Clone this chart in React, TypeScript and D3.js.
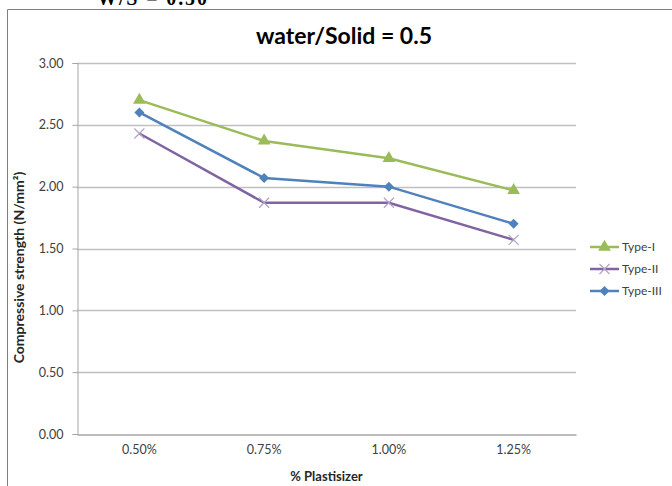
import React, { useEffect, useRef } from 'react';
import * as d3 from 'd3';

const categories = ['0.50%', '0.75%', '1.00%', '1.25%'];
const typeI = [2.7, 2.37, 2.23, 1.97];
const typeII = [2.43, 1.87, 1.87, 1.57];
const typeIII = [2.6, 2.07, 2.0, 1.7];
const yTicks = [0, 0.5, 1, 1.5, 2, 2.5, 3];

const seriesList = [
  { name: 'Type-I', values: typeI, color: '#9bbb59', marker: 'triangle' },
  { name: 'Type-II', values: typeII, color: '#8064a2', marker: 'x' },
  { name: 'Type-III', values: typeIII, color: '#4f81bd', marker: 'diamond' },
];

const App = () => {
  const chart = useRef<SVGSVGElement>(null);

  useEffect(() => {
    document.body.style.margin = '0';
    const width = 672;
    const height = 486;
    const margin = { top: 63, right: 96, bottom: 52, left: 77 };
    const font = 'Lato, "Open Sans", sans-serif';

    const svg = d3.select(chart.current);
    svg.selectAll('*').remove();

    svg.append('rect').attr('width', width).attr('height', height).attr('fill', '#fff');

    // caption above the frame, cut off by the picture's top edge as in the source
    svg
      .append('text')
      .attr('x', 97)
      .attr('y', 5)
      .attr('font-family', '"Liberation Serif", serif')
      .attr('font-size', 20)
      .attr('font-weight', 'bold')
      .attr('textLength', 110)
      .text('W/S = 0.50');

    // frame (left + top edges visible)
    svg
      .append('path')
      .attr('d', `M7.5,${height} V9.5 H${width}`)
      .attr('fill', 'none')
      .attr('stroke', '#7f7f7f')
      .attr('stroke-width', 1);

    const xScale = d3
      .scaleBand()
      .domain(categories)
      .range([margin.left, width - margin.right]);

    const yScale = d3
      .scaleLinear()
      .domain([0, 3])
      .range([height - margin.bottom, margin.top]);

    const cx = (c: string) => (xScale(c) as number) + xScale.bandwidth() / 2;

    // gridlines
    svg
      .append('g')
      .selectAll('line')
      .data(yTicks.filter((d) => d > 0))
      .join('line')
      .attr('x1', margin.left)
      .attr('x2', width - margin.right)
      .attr('y1', (d) => Math.round(yScale(d)) + 0.5)
      .attr('y2', (d) => Math.round(yScale(d)) + 0.5)
      .attr('stroke', '#c0c0c0')
      .attr('stroke-width', 1.3);

    // y axis
    const yAxis = d3
      .axisLeft(yScale)
      .tickValues(yTicks)
      .tickFormat((d) => (d as number).toFixed(2))
      .tickSize(5)
      .tickPadding(9);
    const gy = svg
      .append('g')
      .attr('transform', `translate(${margin.left + 0.5},0)`)
      .call(yAxis);
    gy.selectAll('path,line').attr('stroke', '#a6a6a6');
    gy.selectAll('text').attr('font-family', font).attr('font-size', 12.5).attr('fill', '#404040');

    // x axis
    const xAxis = d3.axisBottom(xScale).tickSize(0).tickPadding(11);
    const gx = svg
      .append('g')
      .attr('transform', `translate(0,${Math.round(yScale(0)) + 0.5})`)
      .call(xAxis);
    gx.select('path').attr('stroke', '#a6a6a6').attr('stroke-width', 1.3);
    gx.selectAll('text').attr('font-family', font).attr('font-size', 12.5).attr('fill', '#404040');

    // series
    const line = d3
      .line<number>()
      .x((_, i) => cx(categories[i]))
      .y((d) => yScale(d));

    seriesList.forEach((s) => {
      svg
        .append('path')
        .attr('d', line(s.values))
        .attr('fill', 'none')
        .attr('stroke', s.color)
        .attr('stroke-width', 2.5);

      const g = svg.append('g');
      s.values.forEach((v, i) => {
        drawMarker(g, s.marker, cx(categories[i]), yScale(v), s.color);
      });
    });

    function drawMarker(g: any, type: string, x: number, y: number, color: string) {
      if (type === 'triangle') {
        g.append('path')
          .attr('d', d3.symbol(d3.symbolTriangle, 70)())
          .attr('transform', `translate(${x},${y})`)
          .attr('fill', color);
      } else if (type === 'diamond') {
        g.append('path')
          .attr('d', 'M0,-5 L5,0 L0,5 L-5,0 Z')
          .attr('transform', `translate(${x},${y})`)
          .attr('fill', color);
      } else {
        g.append('path')
          .attr('d', 'M-5,-5 L5,5 M-5,5 L5,-5')
          .attr('transform', `translate(${x},${y})`)
          .attr('stroke', '#b3a2c7')
          .attr('stroke-width', 1.2);
      }
    }

    // legend
    const legend = svg.append('g').attr('transform', 'translate(590,247)');
    seriesList.forEach((s, i) => {
      const row = legend.append('g').attr('transform', `translate(0,${i * 22})`);
      row
        .append('line')
        .attr('x1', 0)
        .attr('x2', 29)
        .attr('stroke', s.color)
        .attr('stroke-width', 2.5);
      drawMarker(row, s.marker, 14.5, 0, s.color);
      row
        .append('text')
        .attr('x', 32)
        .attr('y', 4)
        .attr('font-family', font)
        .attr('font-size', 12)
        .attr('fill', '#404040')
        .text(s.name);
    });

    // title
    svg
      .append('text')
      .attr('x', 344)
      .attr('y', 44)
      .attr('text-anchor', 'middle')
      .attr('font-family', font)
      .attr('font-size', 23)
      .attr('font-weight', 'bold')
      .attr('fill', '#000')
      .text('water/Solid = 0.5');

    // axis titles
    svg
      .append('text')
      .attr('transform', `translate(24,${(margin.top + height - margin.bottom) / 2 + 19}) rotate(-90)`)
      .attr('text-anchor', 'middle')
      .attr('font-family', font)
      .attr('font-size', 14)
      .attr('font-weight', 'bold')
      .attr('fill', '#262626')
      .text('Compressive strength (N/mm²)');

    svg
      .append('text')
      .attr('x', (margin.left + width - margin.right) / 2)
      .attr('y', 481)
      .attr('text-anchor', 'middle')
      .attr('font-family', font)
      .attr('font-size', 13)
      .attr('font-weight', 'bold')
      .attr('fill', '#262626')
      .text('% Plastisizer');
  }, []);

  return <svg ref={chart} width={672} height={486} style={{ display: 'block' }} />;
};

export default App;
